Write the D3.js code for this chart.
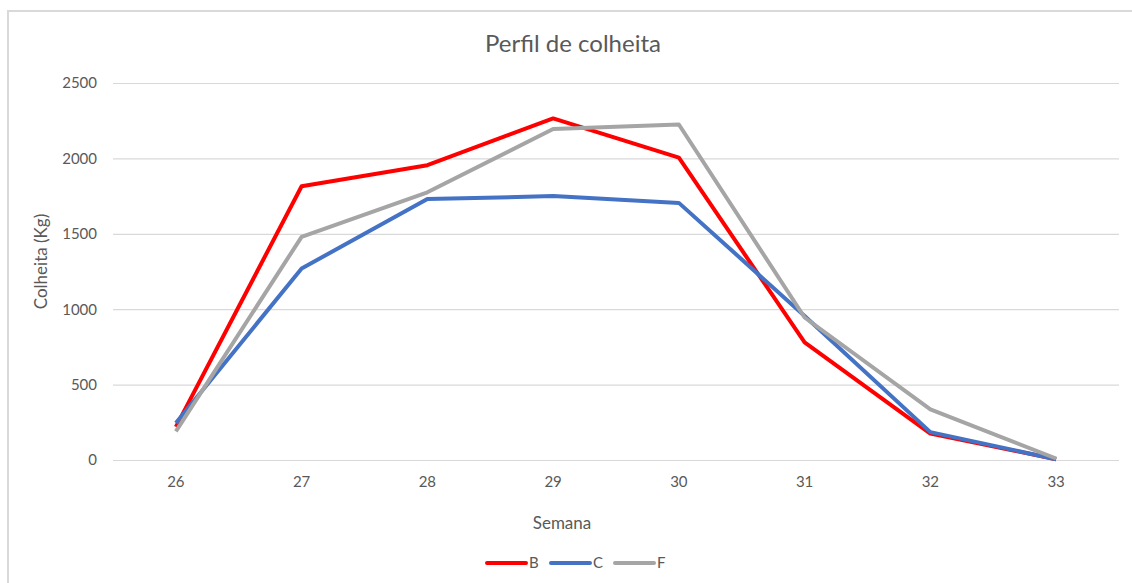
<!DOCTYPE html>
<meta charset="utf-8">
<head>
    <title>Perfil de colheita</title>
    <script src="https://d3js.org/d3.v7.min.js"></script>
    <style>
        body { margin: 0; background: #ffffff; }
        text { font-family: Lato, "Open Sans", sans-serif; fill: #595959; }
    </style>
</head>
<body>
<div id="my_dataviz"></div>
<script>

// data
var semanas = ["26", "27", "28", "29", "30", "31", "32", "33"];
var serieB = [220, 1815, 1955, 2265, 2005, 780, 175, 5];
var serieC = [245, 1270, 1730, 1750, 1705, 955, 185, 5];
var serieF = [190, 1480, 1775, 2195, 2225, 945, 335, 10];
var yTicks = [0, 500, 1000, 1500, 2000, 2500];
var nomes = ["B", "C", "F"];
var cores = ["#ff0000", "#4472c4", "#a5a5a5"];

var W = 1132, H = 583;
var margin = {top: 83, right: 13, bottom: 123, left: 113},
    width = W - margin.left - margin.right,
    height = H - margin.top - margin.bottom;

var root = d3.select("#my_dataviz")
    .append("svg")
    .attr("width", W)
    .attr("height", H);

// chart frame (runs off the right and bottom edges)
root.append("rect")
    .attr("x", 8).attr("y", 11)
    .attr("width", W + 20).attr("height", H + 20)
    .attr("fill", "none")
    .attr("stroke", "#d9d9d9")
    .attr("stroke-width", 2);

var svg = root.append("g")
    .attr("transform", "translate(" + margin.left + "," + margin.top + ")");

var x = d3.scaleBand()
    .domain(semanas)
    .range([0, width]);

var y = d3.scaleLinear()
    .domain([0, 2500])
    .range([height, 0]);

// gridlines
svg.append("g")
    .call(d3.axisLeft(y).tickValues(yTicks).tickSize(-width).tickFormat(""))
    .call(function(g) { g.select(".domain").remove(); })
    .selectAll("line")
    .attr("stroke", "#d9d9d9")
    .attr("stroke-width", 1.2);

// Y axis labels
var yAxis = svg.append("g")
    .call(d3.axisLeft(y).tickValues(yTicks).tickSize(0).tickPadding(16).tickFormat(d3.format("d")));
yAxis.select(".domain").remove();
yAxis.selectAll("text").style("font-size", "15px").attr("fill", "#595959");

// X axis labels
var xAxis = svg.append("g")
    .attr("transform", "translate(0," + height + ")")
    .call(d3.axisBottom(x).tickSize(0).tickPadding(16));
xAxis.select(".domain").remove();
xAxis.selectAll("text").style("font-size", "15px").attr("fill", "#595959");

// title
root.append("text")
    .attr("x", 573).attr("y", 52)
    .attr("text-anchor", "middle")
    .style("font-size", "24px")
    .text("Perfil de colheita");

// axis titles
root.append("text")
    .attr("text-anchor", "middle")
    .attr("transform", "translate(47," + (margin.top + height / 2 - 10) + ") rotate(-90)")
    .style("font-size", "17px")
    .text("Colheita (Kg)");

root.append("text")
    .attr("x", 562).attr("y", 529)
    .attr("text-anchor", "middle")
    .style("font-size", "17px")
    .text("Semana");

// lines
var series = [serieB, serieC, serieF];
var line = d3.line()
    .x(function(d, i) { return x(semanas[i]) + x.bandwidth() / 2; })
    .y(function(d) { return y(d); });

series.forEach(function(s, k) {
    svg.append("path")
        .datum(s)
        .attr("fill", "none")
        .attr("stroke", cores[k])
        .attr("stroke-width", 4)
        .attr("stroke-linejoin", "round")
        .attr("d", line);
});

// legend
var legX = [487, 551, 615];
nomes.forEach(function(n, k) {
    root.append("line")
        .attr("x1", legX[k]).attr("x2", legX[k] + 39)
        .attr("y1", 563).attr("y2", 563)
        .attr("stroke", cores[k])
        .attr("stroke-width", 4)
        .attr("stroke-linecap", "round");
    root.append("text")
        .attr("x", legX[k] + 42).attr("y", 568)
        .style("font-size", "15px")
        .text(n);
});

</script>
</body>
</html>
